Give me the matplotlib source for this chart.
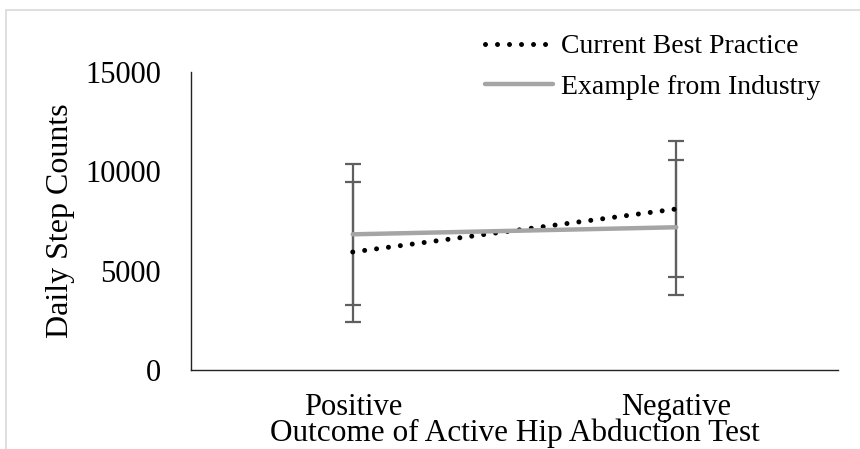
import matplotlib.pyplot as plt
from matplotlib.patches import Rectangle

# values
categories = ["Positive", "Negative"]
best_practice = [5940, 8105]
best_practice_err = [3530, 3400]
industry = [6830, 7185]
industry_err = [3540, 3400]
y_ticks = [0, 5000, 10000, 15000]

plt.rcParams["font.family"] = ["Liberation Serif", "DejaVu Serif"]

W, H = 860, 449
fig = plt.figure(figsize=(W / 100, H / 100), dpi=100)
ax = fig.add_axes([191 / W, 1 - 370 / H, (838 - 191) / W, (370 - 72) / H])

# light chart-area border (Excel style), runs off the right/bottom edge
fig.patches.append(Rectangle((6 / W, -0.1), 1.2, 1.1 - 10 / H, transform=fig.transFigure,
                             fill=False, edgecolor="#d9d9d9", linewidth=1.2))

x = list(range(len(categories)))
err_kw = dict(fmt="none", ecolor="#5f5f5f", elinewidth=1.6, capsize=6, capthick=1.6, zorder=2)
ax.errorbar(x, best_practice, yerr=best_practice_err, **err_kw)
ax.errorbar(x, industry, yerr=industry_err, **err_kw)

ax.plot(x, best_practice, color="black", linewidth=3.6, linestyle=(0, (0.001, 2.4)),
        dash_capstyle="round", label="Current Best Practice", zorder=3)
ax.plot(x, industry, color="#a5a5a5", linewidth=3.2, solid_capstyle="round",
        label="Example from Industry", zorder=3)

ax.set_xlim(-0.5, 1.5)
ax.set_ylim(0, 15000)
ax.set_yticks(y_ticks)
ax.set_xticks(x)
ax.set_xticklabels(categories)
ax.tick_params(axis="both", length=0, labelsize=22)
ax.tick_params(axis="y", pad=21.5)
ax.tick_params(axis="x", pad=16.5)

for s in ["top", "right"]:
    ax.spines[s].set_visible(False)
for s in ["left", "bottom"]:
    ax.spines[s].set_linewidth(1.0)
    ax.spines[s].set_color("#222222")

ax.set_ylabel("Daily Step Counts", fontsize=23)
ax.yaxis.set_label_coords(-0.179, 0.5)
ax.set_xlabel("Outcome of Active Hip Abduction Test", fontsize=22.5)
ax.xaxis.set_label_coords(0.5, -0.162)

fig.legend(loc="upper left", bbox_to_anchor=(485 / W, 1 - 34 / H), frameon=False,
           fontsize=20, handlelength=2.45, handletextpad=0.3, labelspacing=0.55,
           borderpad=0, borderaxespad=0)

fig.savefig("out.png", dpi=100)
